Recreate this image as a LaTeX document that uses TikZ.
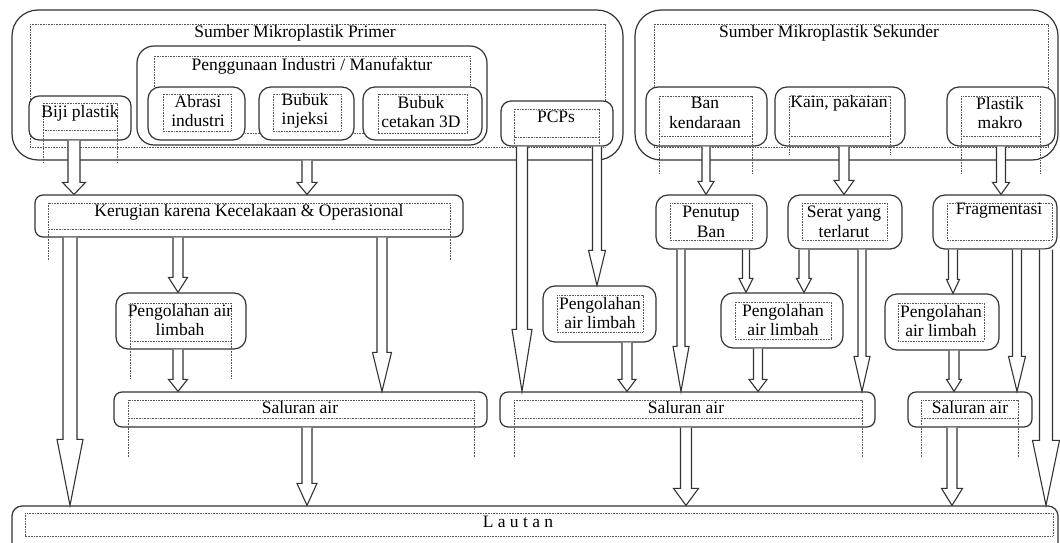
\documentclass[tikz,border=0pt]{standalone}
\usepackage{fontspec}
\setmainfont{Liberation Serif}
\usetikzlibrary{calc}
\begin{document}
\begin{tikzpicture}[x=1pt,y=-1pt,line width=1.2pt,font=\fontsize{17.5}{19.5}\selectfont,
	kotak/.style={draw=black!80,fill=white,inner sep=0pt},
	bingkai/.style={draw=black!65,line width=0.6pt,dash pattern=on 0.8pt off 0.8pt},
	panah/.style={draw=black!80,fill=white,line width=1.1pt,line join=miter},
	teks/.style={inner sep=0pt,align=center}]
	\useasboundingbox (0,0) rectangle (1060,543);
	\foreach \n/\a/\b/\c/\d/\r in {primer/12/10/623/160/26,sekunder/635/10/1058/160/26}{
		\node[kotak,rounded corners=\r,minimum width={\c-\a},minimum height={\d-\b}] (\n) at ({(\a+\c)/2},{(\b+\d)/2}) {};
	}
	\foreach \a/\b/\c/\d/\e in {30/24/605/147/147,654/24/1048/147/147}{
		\draw[bingkai] (\a,\b) rectangle (\c,\d) (\a,\d) -- (\a,\e) (\c,\d) -- (\c,\e);
	}
	\foreach \n/\a/\b/\c/\d/\r in {industri/137/46/487/145/17,biji/29/96/131/140/10,pcps/501/101/613/146/10,
		ban/646/87/767/146/12,kain/775/87/905/146/12,plastik/947/87/1055/146/12}{
		\node[kotak,rounded corners=\r,minimum width={\c-\a},minimum height={\d-\b}] (\n) at ({(\a+\c)/2},{(\b+\d)/2}) {};
	}
	\foreach \a/\b/\c/\d/\e in {154/56/470/133/133,43/103/117/130/163,514/109/599/137/145,
		659/96/752/136/173,789/96/890/136/155,961/96/1040/136/173}{
		\draw[bingkai] (\a,\b) rectangle (\c,\d) (\a,\d) -- (\a,\e) (\c,\d) -- (\c,\e);
	}
	\foreach \n/\a/\b/\c/\d/\r in {abrasi/148/87/245/140/12,injeksi/259/87/354/140/12,cetak/363/87/482/140/12,
		kerugian/35/195/463/237/8,olahA/116/293/246/349/12,olahB/543/286/656/342/12,
		penutup/656/195/767/249/12,serat/788/195/902/249/12,fragmen/933/195/1057/249/12,
		olahC/721/293/843/348/12,olahD/885/294/999/350/12,
		salurA/114/392/487/427/8,salurB/500/392/875/427/8,salurC/908/392/1032/427/8,
		lautan/12/506/1058/565/10}{
		\node[kotak,rounded corners=\r,minimum width={\c-\a},minimum height={\d-\b}] (\n) at ({(\a+\c)/2},{(\b+\d)/2}) {};
	}
	\foreach \a/\b/\c/\d/\e in {163/94/231/131/131,273/94/341/131/131,378/94/467/133/133,
		48/203/450/229/261,130/303/231/341/379,557/295/643/332/332,670/203/752/240/240,
		802/203/887/240/240,947/203/1052/240/240,735/302/831/339/339,898/303/984/341/341,
		128/400/474/418/458,514/400/862/418/458,921/400/1018/418/458,25/513/1053/536/536}{
		\draw[bingkai] (\a,\b) rectangle (\c,\d) (\a,\d) -- (\a,\e) (\c,\d) -- (\c,\e);
	}
	\foreach \n/\tx/\ty/\t in {primer/295/33/Sumber Mikroplastik Primer,
		sekunder/829/33/Sumber Mikroplastik Sekunder,
		industri/312/66/{Penggunaan Industri / Manufaktur},
		biji/80/113/Biji plastik,abrasi/198/111/Abrasi\\industri,injeksi/305/111/Bubuk\\injeksi,
		cetak/421/112/Bubuk\\cetakan 3D,pcps/556/117/PCPs,ban/705/113/Ban\\kendaraan,
		kain/839/103/{Kain, pakaian},plastik/1000/113/Plastik\\makro,
		kerugian/249/212/Kerugian karena Kecelakaan \& Operasional,
		olahA/180/320/Pengolahan air\\limbah,olahB/600/313/Pengolahan\\air limbah,
		penutup/711/222/Penutup\\Ban,serat/844/222/Serat yang\\terlarut,fragmen/999/211/Fragmentasi,
		olahC/783/320/Pengolahan\\air limbah,olahD/941/321/Pengolahan\\air limbah,
		salurA/300/408/Saluran air,salurB/686/408/Saluran air,salurC/970/408/Saluran air,
		lautan/518/522/L a u t a n}{
		\node[teks] (t-\n) at (\tx,\ty) {\t};
	}
	\foreach \a/\b/\cx/\s/\w/\l in {biji/kerugian/74/6/11.5/12,primer/kerugian/307/5/10/12,
		kerugian/lautan/70/7/13/66,kerugian/olahA/178/5/9.5/15,kerugian/salurA/382/5/9.5/39,
		olahA/salurA/178/5/9.5/12,salurA/lautan/307/5/10/22,
		pcps/salurB/522/5.5/10/62,pcps/olahB/597/4.5/8.5/35,olahB/salurB/627/5/9/12,
		ban/penutup/706/4/8/13,penutup/salurB/681/4/8/45,penutup/olahC/746/3.5/7/14,
		kain/serat/844/5/10/14,serat/olahC/804/5/7.5/14,serat/salurB/862/4/8/35,
		olahC/salurB/758/4.5/9/12,salurB/lautan/686/5.5/12.5/17,
		plastik/fragmen/1001/4.5/8.5/12,fragmen/olahD/953/4.5/6.5/14,fragmen/salurC/1017/4.5/8.5/35,
		fragmen/lautan/1046/6.5/13.5/65,olahD/salurC/954/5/7.5/12,salurC/lautan/952/5/10.5/17}{
		\draw[panah] let \p1=(\a.south), \p2=(\b.north) in
			({(\cx-\s)*1pt},\y1) -- ({(\cx-\s)*1pt},\y2+\l) -- ({(\cx-\w)*1pt},\y2+\l) -- ({\cx*1pt},\y2)
			-- ({(\cx+\w)*1pt},\y2+\l) -- ({(\cx+\s)*1pt},\y2+\l) -- ({(\cx+\s)*1pt},\y1);
	}
\end{tikzpicture}
\end{document}
